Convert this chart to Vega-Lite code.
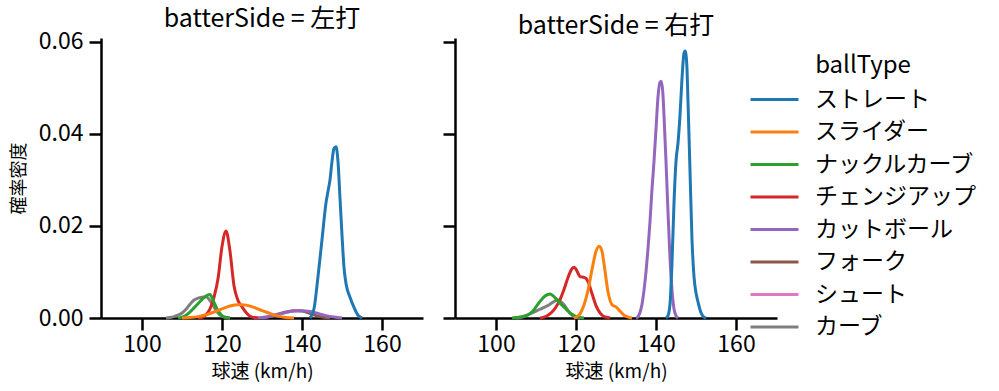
{
  "$schema": "https://vega.github.io/schema/vega-lite/v6.json",
  "padding": {"left": 10, "top": 6, "right": 5, "bottom": 5},
  "background": "white",
  "config": {
    "font": "Noto Sans CJK JP",
    "view": {"stroke": null},
    "axis": {"grid": false, "domainColor": "black", "domainWidth": 2.5, "tickColor": "black", "tickWidth": 2.5, "tickSize": 12, "labelFontSize": 23, "labelColor": "black", "titleFontSize": 19, "titleFontWeight": "normal", "titleColor": "black", "labelPadding": 6},
    "axisX": {"labelPadding": 3, "titlePadding": 6},
    "title": {"fontSize": 25, "fontWeight": "normal", "color": "black", "frame": "group", "baseline": "alphabetic", "offset": -1}
  },
  "data": {"values": [
    {"batterSide":"左打","ballType":"カーブ","speed":106,"density":0},
    {"batterSide":"左打","ballType":"カーブ","speed":107,"density":0.0001},
    {"batterSide":"左打","ballType":"カーブ","speed":108,"density":0.0003},
    {"batterSide":"左打","ballType":"カーブ","speed":109,"density":0.0006},
    {"batterSide":"左打","ballType":"カーブ","speed":110,"density":0.0011},
    {"batterSide":"左打","ballType":"カーブ","speed":111,"density":0.0019},
    {"batterSide":"左打","ballType":"カーブ","speed":112,"density":0.003},
    {"batterSide":"左打","ballType":"カーブ","speed":113,"density":0.0039},
    {"batterSide":"左打","ballType":"カーブ","speed":114,"density":0.0043},
    {"batterSide":"左打","ballType":"カーブ","speed":115,"density":0.0045},
    {"batterSide":"左打","ballType":"カーブ","speed":116,"density":0.0046},
    {"batterSide":"左打","ballType":"カーブ","speed":117,"density":0.0038},
    {"batterSide":"左打","ballType":"カーブ","speed":118,"density":0.0024},
    {"batterSide":"左打","ballType":"カーブ","speed":119,"density":0.0011},
    {"batterSide":"左打","ballType":"カーブ","speed":120,"density":0.0004},
    {"batterSide":"左打","ballType":"カーブ","speed":121,"density":0.0001},
    {"batterSide":"左打","ballType":"カーブ","speed":122,"density":0},
    {"batterSide":"左打","ballType":"フォーク","speed":130,"density":0},
    {"batterSide":"左打","ballType":"フォーク","speed":132,"density":0.0003},
    {"batterSide":"左打","ballType":"フォーク","speed":134,"density":0.0008},
    {"batterSide":"左打","ballType":"フォーク","speed":136,"density":0.0013},
    {"batterSide":"左打","ballType":"フォーク","speed":138,"density":0.0016},
    {"batterSide":"左打","ballType":"フォーク","speed":140,"density":0.0015},
    {"batterSide":"左打","ballType":"フォーク","speed":142,"density":0.001},
    {"batterSide":"左打","ballType":"フォーク","speed":144,"density":0.0004},
    {"batterSide":"左打","ballType":"フォーク","speed":146,"density":0.0001},
    {"batterSide":"左打","ballType":"フォーク","speed":147,"density":0},
    {"batterSide":"左打","ballType":"カットボール","speed":128,"density":0},
    {"batterSide":"左打","ballType":"カットボール","speed":130,"density":0.0001},
    {"batterSide":"左打","ballType":"カットボール","speed":132,"density":0.0004},
    {"batterSide":"左打","ballType":"カットボール","speed":134,"density":0.0008},
    {"batterSide":"左打","ballType":"カットボール","speed":136,"density":0.0012},
    {"batterSide":"左打","ballType":"カットボール","speed":138,"density":0.0015},
    {"batterSide":"左打","ballType":"カットボール","speed":139,"density":0.0016},
    {"batterSide":"左打","ballType":"カットボール","speed":140,"density":0.0016},
    {"batterSide":"左打","ballType":"カットボール","speed":142,"density":0.0014},
    {"batterSide":"左打","ballType":"カットボール","speed":144,"density":0.001},
    {"batterSide":"左打","ballType":"カットボール","speed":146,"density":0.0005},
    {"batterSide":"左打","ballType":"カットボール","speed":148,"density":0.0002},
    {"batterSide":"左打","ballType":"カットボール","speed":150,"density":0},
    {"batterSide":"左打","ballType":"チェンジアップ","speed":114,"density":0},
    {"batterSide":"左打","ballType":"チェンジアップ","speed":115,"density":0.0001},
    {"batterSide":"左打","ballType":"チェンジアップ","speed":116,"density":0.0007},
    {"batterSide":"左打","ballType":"チェンジアップ","speed":117,"density":0.002},
    {"batterSide":"左打","ballType":"チェンジアップ","speed":118,"density":0.0045},
    {"batterSide":"左打","ballType":"チェンジアップ","speed":119,"density":0.0085},
    {"batterSide":"左打","ballType":"チェンジアップ","speed":120,"density":0.0155},
    {"batterSide":"左打","ballType":"チェンジアップ","speed":121,"density":0.0189},
    {"batterSide":"左打","ballType":"チェンジアップ","speed":122,"density":0.0145},
    {"batterSide":"左打","ballType":"チェンジアップ","speed":123,"density":0.007},
    {"batterSide":"左打","ballType":"チェンジアップ","speed":124,"density":0.0038},
    {"batterSide":"左打","ballType":"チェンジアップ","speed":125,"density":0.0024},
    {"batterSide":"左打","ballType":"チェンジアップ","speed":126,"density":0.0012},
    {"batterSide":"左打","ballType":"チェンジアップ","speed":127,"density":0.0004},
    {"batterSide":"左打","ballType":"チェンジアップ","speed":128,"density":0.0001},
    {"batterSide":"左打","ballType":"チェンジアップ","speed":129,"density":0},
    {"batterSide":"左打","ballType":"ナックルカーブ","speed":109,"density":0},
    {"batterSide":"左打","ballType":"ナックルカーブ","speed":110,"density":0.0002},
    {"batterSide":"左打","ballType":"ナックルカーブ","speed":111,"density":0.0006},
    {"batterSide":"左打","ballType":"ナックルカーブ","speed":112,"density":0.0013},
    {"batterSide":"左打","ballType":"ナックルカーブ","speed":113,"density":0.0022},
    {"batterSide":"左打","ballType":"ナックルカーブ","speed":114,"density":0.0031},
    {"batterSide":"左打","ballType":"ナックルカーブ","speed":115,"density":0.004},
    {"batterSide":"左打","ballType":"ナックルカーブ","speed":116,"density":0.0048},
    {"batterSide":"左打","ballType":"ナックルカーブ","speed":117,"density":0.0051},
    {"batterSide":"左打","ballType":"ナックルカーブ","speed":118,"density":0.0034},
    {"batterSide":"左打","ballType":"ナックルカーブ","speed":119,"density":0.0016},
    {"batterSide":"左打","ballType":"ナックルカーブ","speed":120,"density":0.0005},
    {"batterSide":"左打","ballType":"ナックルカーブ","speed":121,"density":0.0001},
    {"batterSide":"左打","ballType":"ナックルカーブ","speed":122,"density":0},
    {"batterSide":"左打","ballType":"スライダー","speed":110,"density":0},
    {"batterSide":"左打","ballType":"スライダー","speed":112,"density":0.0001},
    {"batterSide":"左打","ballType":"スライダー","speed":114,"density":0.0003},
    {"batterSide":"左打","ballType":"スライダー","speed":116,"density":0.0007},
    {"batterSide":"左打","ballType":"スライダー","speed":118,"density":0.0013},
    {"batterSide":"左打","ballType":"スライダー","speed":120,"density":0.002},
    {"batterSide":"左打","ballType":"スライダー","speed":122,"density":0.0026},
    {"batterSide":"左打","ballType":"スライダー","speed":124,"density":0.0029},
    {"batterSide":"左打","ballType":"スライダー","speed":125,"density":0.0029},
    {"batterSide":"左打","ballType":"スライダー","speed":126,"density":0.0028},
    {"batterSide":"左打","ballType":"スライダー","speed":128,"density":0.0023},
    {"batterSide":"左打","ballType":"スライダー","speed":130,"density":0.0016},
    {"batterSide":"左打","ballType":"スライダー","speed":132,"density":0.001},
    {"batterSide":"左打","ballType":"スライダー","speed":134,"density":0.0004},
    {"batterSide":"左打","ballType":"スライダー","speed":136,"density":0.0001},
    {"batterSide":"左打","ballType":"スライダー","speed":138,"density":0},
    {"batterSide":"左打","ballType":"ストレート","speed":142,"density":0},
    {"batterSide":"左打","ballType":"ストレート","speed":143,"density":0.002},
    {"batterSide":"左打","ballType":"ストレート","speed":144,"density":0.009},
    {"batterSide":"左打","ballType":"ストレート","speed":145,"density":0.017},
    {"batterSide":"左打","ballType":"ストレート","speed":146,"density":0.025},
    {"batterSide":"左打","ballType":"ストレート","speed":146.5,"density":0.0275},
    {"batterSide":"左打","ballType":"ストレート","speed":147,"density":0.03},
    {"batterSide":"左打","ballType":"ストレート","speed":147.5,"density":0.034},
    {"batterSide":"左打","ballType":"ストレート","speed":148,"density":0.0368},
    {"batterSide":"左打","ballType":"ストレート","speed":148.5,"density":0.0372},
    {"batterSide":"左打","ballType":"ストレート","speed":149,"density":0.034},
    {"batterSide":"左打","ballType":"ストレート","speed":149.5,"density":0.026},
    {"batterSide":"左打","ballType":"ストレート","speed":150,"density":0.018},
    {"batterSide":"左打","ballType":"ストレート","speed":150.5,"density":0.011},
    {"batterSide":"左打","ballType":"ストレート","speed":151,"density":0.0075},
    {"batterSide":"左打","ballType":"ストレート","speed":152,"density":0.0045},
    {"batterSide":"左打","ballType":"ストレート","speed":153,"density":0.0023},
    {"batterSide":"左打","ballType":"ストレート","speed":154,"density":0.0006},
    {"batterSide":"左打","ballType":"ストレート","speed":155,"density":0},

    {"batterSide":"右打","ballType":"カーブ","speed":105,"density":0},
    {"batterSide":"右打","ballType":"カーブ","speed":106,"density":0.0001},
    {"batterSide":"右打","ballType":"カーブ","speed":107,"density":0.0003},
    {"batterSide":"右打","ballType":"カーブ","speed":108,"density":0.0007},
    {"batterSide":"右打","ballType":"カーブ","speed":109,"density":0.0011},
    {"batterSide":"右打","ballType":"カーブ","speed":110,"density":0.0015},
    {"batterSide":"右打","ballType":"カーブ","speed":111,"density":0.0019},
    {"batterSide":"右打","ballType":"カーブ","speed":112,"density":0.0023},
    {"batterSide":"右打","ballType":"カーブ","speed":113,"density":0.0027},
    {"batterSide":"右打","ballType":"カーブ","speed":114,"density":0.0033},
    {"batterSide":"右打","ballType":"カーブ","speed":115,"density":0.0038},
    {"batterSide":"右打","ballType":"カーブ","speed":115.5,"density":0.0039},
    {"batterSide":"右打","ballType":"カーブ","speed":116,"density":0.0037},
    {"batterSide":"右打","ballType":"カーブ","speed":117,"density":0.0029},
    {"batterSide":"右打","ballType":"カーブ","speed":118,"density":0.0016},
    {"batterSide":"右打","ballType":"カーブ","speed":119,"density":0.0006},
    {"batterSide":"右打","ballType":"カーブ","speed":120,"density":0.0001},
    {"batterSide":"右打","ballType":"カーブ","speed":121,"density":0},
    {"batterSide":"右打","ballType":"カットボール","speed":135,"density":0},
    {"batterSide":"右打","ballType":"カットボール","speed":135.5,"density":0.0003},
    {"batterSide":"右打","ballType":"カットボール","speed":136,"density":0.0012},
    {"batterSide":"右打","ballType":"カットボール","speed":136.5,"density":0.003},
    {"batterSide":"右打","ballType":"カットボール","speed":137,"density":0.006},
    {"batterSide":"右打","ballType":"カットボール","speed":137.5,"density":0.01},
    {"batterSide":"右打","ballType":"カットボール","speed":138,"density":0.015},
    {"batterSide":"右打","ballType":"カットボール","speed":138.5,"density":0.021},
    {"batterSide":"右打","ballType":"カットボール","speed":139,"density":0.028},
    {"batterSide":"右打","ballType":"カットボール","speed":139.5,"density":0.034},
    {"batterSide":"右打","ballType":"カットボール","speed":140,"density":0.041},
    {"batterSide":"右打","ballType":"カットボール","speed":140.5,"density":0.048},
    {"batterSide":"右打","ballType":"カットボール","speed":141,"density":0.0512},
    {"batterSide":"右打","ballType":"カットボール","speed":141.3,"density":0.0514},
    {"batterSide":"右打","ballType":"カットボール","speed":141.7,"density":0.049},
    {"batterSide":"右打","ballType":"カットボール","speed":142,"density":0.044},
    {"batterSide":"右打","ballType":"カットボール","speed":142.5,"density":0.034},
    {"batterSide":"右打","ballType":"カットボール","speed":143,"density":0.023},
    {"batterSide":"右打","ballType":"カットボール","speed":143.5,"density":0.013},
    {"batterSide":"右打","ballType":"カットボール","speed":144,"density":0.006},
    {"batterSide":"右打","ballType":"カットボール","speed":144.5,"density":0.002},
    {"batterSide":"右打","ballType":"カットボール","speed":145,"density":0.0005},
    {"batterSide":"右打","ballType":"カットボール","speed":145.5,"density":0},
    {"batterSide":"右打","ballType":"チェンジアップ","speed":111,"density":0},
    {"batterSide":"右打","ballType":"チェンジアップ","speed":112,"density":0.0002},
    {"batterSide":"右打","ballType":"チェンジアップ","speed":113,"density":0.0006},
    {"batterSide":"右打","ballType":"チェンジアップ","speed":114,"density":0.0013},
    {"batterSide":"右打","ballType":"チェンジアップ","speed":115,"density":0.0024},
    {"batterSide":"右打","ballType":"チェンジアップ","speed":116,"density":0.004},
    {"batterSide":"右打","ballType":"チェンジアップ","speed":117,"density":0.0062},
    {"batterSide":"右打","ballType":"チェンジアップ","speed":118,"density":0.0088},
    {"batterSide":"右打","ballType":"チェンジアップ","speed":119,"density":0.0107},
    {"batterSide":"右打","ballType":"チェンジアップ","speed":119.5,"density":0.011},
    {"batterSide":"右打","ballType":"チェンジアップ","speed":120,"density":0.0106},
    {"batterSide":"右打","ballType":"チェンジアップ","speed":121,"density":0.009},
    {"batterSide":"右打","ballType":"チェンジアップ","speed":122,"density":0.0088},
    {"batterSide":"右打","ballType":"チェンジアップ","speed":122.5,"density":0.0086},
    {"batterSide":"右打","ballType":"チェンジアップ","speed":123,"density":0.0079},
    {"batterSide":"右打","ballType":"チェンジアップ","speed":124,"density":0.0053},
    {"batterSide":"右打","ballType":"チェンジアップ","speed":125,"density":0.0027},
    {"batterSide":"右打","ballType":"チェンジアップ","speed":126,"density":0.0011},
    {"batterSide":"右打","ballType":"チェンジアップ","speed":127,"density":0.0003},
    {"batterSide":"右打","ballType":"チェンジアップ","speed":128,"density":0.0001},
    {"batterSide":"右打","ballType":"チェンジアップ","speed":128.5,"density":0},
    {"batterSide":"右打","ballType":"ナックルカーブ","speed":104,"density":0},
    {"batterSide":"右打","ballType":"ナックルカーブ","speed":105,"density":0.0001},
    {"batterSide":"右打","ballType":"ナックルカーブ","speed":106,"density":0.0002},
    {"batterSide":"右打","ballType":"ナックルカーブ","speed":107,"density":0.0004},
    {"batterSide":"右打","ballType":"ナックルカーブ","speed":108,"density":0.0007},
    {"batterSide":"右打","ballType":"ナックルカーブ","speed":109,"density":0.0013},
    {"batterSide":"右打","ballType":"ナックルカーブ","speed":110,"density":0.0024},
    {"batterSide":"右打","ballType":"ナックルカーブ","speed":111,"density":0.0036},
    {"batterSide":"右打","ballType":"ナックルカーブ","speed":112,"density":0.0046},
    {"batterSide":"右打","ballType":"ナックルカーブ","speed":113,"density":0.0051},
    {"batterSide":"右打","ballType":"ナックルカーブ","speed":113.5,"density":0.0052},
    {"batterSide":"右打","ballType":"ナックルカーブ","speed":114,"density":0.005},
    {"batterSide":"右打","ballType":"ナックルカーブ","speed":115,"density":0.0042},
    {"batterSide":"右打","ballType":"ナックルカーブ","speed":116,"density":0.0032},
    {"batterSide":"右打","ballType":"ナックルカーブ","speed":117,"density":0.0024},
    {"batterSide":"右打","ballType":"ナックルカーブ","speed":118,"density":0.0015},
    {"batterSide":"右打","ballType":"ナックルカーブ","speed":119,"density":0.0008},
    {"batterSide":"右打","ballType":"ナックルカーブ","speed":120,"density":0.0003},
    {"batterSide":"右打","ballType":"ナックルカーブ","speed":121,"density":0.0001},
    {"batterSide":"右打","ballType":"ナックルカーブ","speed":122,"density":0},
    {"batterSide":"右打","ballType":"スライダー","speed":119.5,"density":0},
    {"batterSide":"右打","ballType":"スライダー","speed":120,"density":0.0002},
    {"batterSide":"右打","ballType":"スライダー","speed":121,"density":0.0009},
    {"batterSide":"右打","ballType":"スライダー","speed":122,"density":0.0028},
    {"batterSide":"右打","ballType":"スライダー","speed":123,"density":0.006},
    {"batterSide":"右打","ballType":"スライダー","speed":124,"density":0.0105},
    {"batterSide":"右打","ballType":"スライダー","speed":125,"density":0.0145},
    {"batterSide":"右打","ballType":"スライダー","speed":125.8,"density":0.0156},
    {"batterSide":"右打","ballType":"スライダー","speed":126.5,"density":0.0145},
    {"batterSide":"右打","ballType":"スライダー","speed":127,"density":0.0118},
    {"batterSide":"右打","ballType":"スライダー","speed":128,"density":0.0057},
    {"batterSide":"右打","ballType":"スライダー","speed":129,"density":0.0029},
    {"batterSide":"右打","ballType":"スライダー","speed":130,"density":0.0024},
    {"batterSide":"右打","ballType":"スライダー","speed":131,"density":0.0015},
    {"batterSide":"右打","ballType":"スライダー","speed":132,"density":0.0006},
    {"batterSide":"右打","ballType":"スライダー","speed":133,"density":0.0002},
    {"batterSide":"右打","ballType":"スライダー","speed":134,"density":0},
    {"batterSide":"右打","ballType":"ストレート","speed":142.5,"density":0},
    {"batterSide":"右打","ballType":"ストレート","speed":143,"density":0.0005},
    {"batterSide":"右打","ballType":"ストレート","speed":143.5,"density":0.003},
    {"batterSide":"右打","ballType":"ストレート","speed":144,"density":0.012},
    {"batterSide":"右打","ballType":"ストレート","speed":144.5,"density":0.025},
    {"batterSide":"右打","ballType":"ストレート","speed":145,"density":0.034},
    {"batterSide":"右打","ballType":"ストレート","speed":145.5,"density":0.038},
    {"batterSide":"右打","ballType":"ストレート","speed":146,"density":0.044},
    {"batterSide":"右打","ballType":"ストレート","speed":146.5,"density":0.052},
    {"batterSide":"右打","ballType":"ストレート","speed":147,"density":0.0575},
    {"batterSide":"右打","ballType":"ストレート","speed":147.3,"density":0.058},
    {"batterSide":"右打","ballType":"ストレート","speed":147.7,"density":0.055},
    {"batterSide":"右打","ballType":"ストレート","speed":148,"density":0.047},
    {"batterSide":"右打","ballType":"ストレート","speed":148.5,"density":0.032},
    {"batterSide":"右打","ballType":"ストレート","speed":149,"density":0.017},
    {"batterSide":"右打","ballType":"ストレート","speed":149.5,"density":0.009},
    {"batterSide":"右打","ballType":"ストレート","speed":150,"density":0.0055},
    {"batterSide":"右打","ballType":"ストレート","speed":150.5,"density":0.0035},
    {"batterSide":"右打","ballType":"ストレート","speed":151,"density":0.0018},
    {"batterSide":"右打","ballType":"ストレート","speed":151.5,"density":0.0007},
    {"batterSide":"右打","ballType":"ストレート","speed":152,"density":0.0002},
    {"batterSide":"右打","ballType":"ストレート","speed":152.5,"density":0}
  ]},
  "spacing": 32,
  "bounds": "flush",
  "resolve": {"scale": {"color": "shared"}, "legend": {"color": "shared"}},
  "hconcat": [
    {
      "width": 322, "height": 280,
      "title": {"text": "batterSide = 左打"},
      "transform": [{"filter": "datum.batterSide === '左打'"}],
      "mark": {"type": "line", "strokeWidth": 3, "interpolate": "monotone"},
      "encoding": {
        "x": {"field": "speed", "type": "quantitative", "scale": {"domain": [89.75, 170.25], "nice": false, "zero": false}, "axis": {"values": [100, 120, 140, 160], "title": "球速 (km/h)"}},
        "y": {"field": "density", "type": "quantitative", "scale": {"domain": [0, 0.0608], "nice": false}, "axis": {"values": [0, 0.02, 0.04, 0.06], "format": ".2f", "title": "確率密度", "titleFontSize": 18, "titlePadding": 10}},
        "color": {"field": "ballType", "type": "nominal",
          "scale": {"domain": ["ストレート", "スライダー", "ナックルカーブ", "チェンジアップ", "カットボール", "フォーク", "シュート", "カーブ"], "range": ["#1f77b4", "#ff7f0e", "#2ca02c", "#d62728", "#9467bd", "#8c564b", "#e377c2", "#7f7f7f"]},
          "legend": {"title": "ballType", "orient": "none", "legendX": 648, "legendY": 16, "titleFontSize": 24, "titleFontWeight": "normal", "titleColor": "black", "titleAnchor": "middle", "titlePadding": 10, "labelFontSize": 23, "labelLimit": 0, "labelColor": "black", "symbolType": "M -1 0 L 3.8 0", "symbolSize": 400, "symbolStrokeWidth": 3, "labelOffset": 43, "rowPadding": 8.5}}
      }
    },
    {
      "width": 322, "height": 280,
      "title": {"text": "batterSide = 右打"},
      "transform": [{"filter": "datum.batterSide === '右打'"}],
      "mark": {"type": "line", "strokeWidth": 3, "interpolate": "monotone"},
      "encoding": {
        "x": {"field": "speed", "type": "quantitative", "scale": {"domain": [89.75, 170.25], "nice": false, "zero": false}, "axis": {"values": [100, 120, 140, 160], "title": "球速 (km/h)"}},
        "y": {"field": "density", "type": "quantitative", "scale": {"domain": [0, 0.0608], "nice": false}, "axis": {"values": [0, 0.02, 0.04, 0.06], "labels": false, "title": null}},
        "color": {"field": "ballType", "type": "nominal",
          "scale": {"domain": ["ストレート", "スライダー", "ナックルカーブ", "チェンジアップ", "カットボール", "フォーク", "シュート", "カーブ"], "range": ["#1f77b4", "#ff7f0e", "#2ca02c", "#d62728", "#9467bd", "#8c564b", "#e377c2", "#7f7f7f"]}}
      }
    }
  ]
}
